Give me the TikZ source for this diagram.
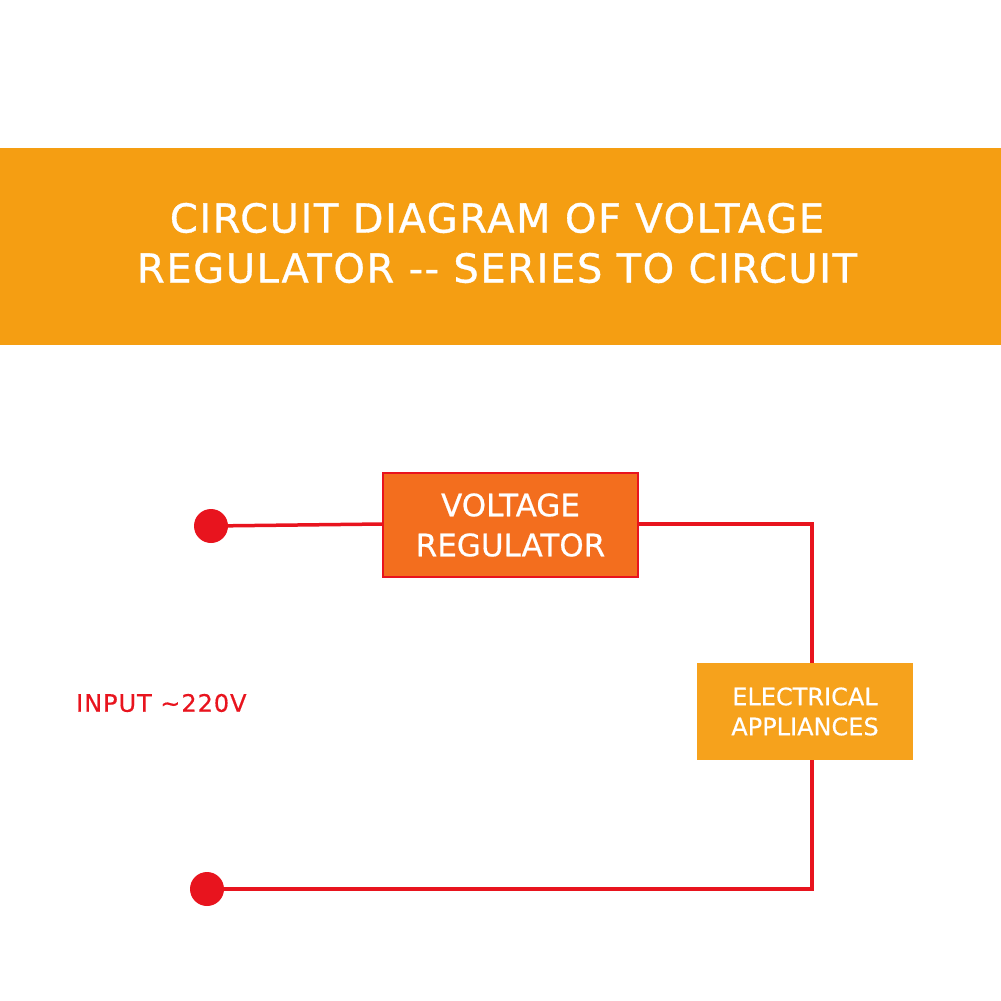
\documentclass[tikz,border=0pt]{standalone}
\usepackage{fontspec}
\setmainfont{DejaVu Sans}
\definecolor{ban}{RGB}{245,158,18}
\definecolor{reg}{RGB}{243,110,30}
\definecolor{app}{RGB}{246,162,28}
\definecolor{wire}{RGB}{232,20,30}
\begin{document}
\begin{tikzpicture}[x=1pt,y=-1pt,
  wire/.style={draw=wire,line width=3.5pt},
  dot/.style={circle,fill=wire,minimum size=34pt,inner sep=0pt},
  txt/.style={text=white,align=center,inner sep=0pt}]
\useasboundingbox (0,0) rectangle (1001,1001);
\fill[ban] (0,148) rectangle (1001,345);
\node[txt,font=\fontsize{40}{50}\selectfont\addfontfeature{LetterSpace=4,FakeBold=0.8}] (title) at (497,243) {CIRCUIT DIAGRAM OF VOLTAGE\\REGULATOR {-}{-} SERIES TO CIRCUIT};
\node[dot] (d1) at (211,526) {};
\node[dot] (d2) at (207,889) {};
\coordinate (c1) at (812,524);
\coordinate (c2) at (812,889);
\draw[wire] (d1.center) -- (383,524);
\draw[wire] (638,524) -- (c1) -- (812,663);
\draw[wire] (812,760) -- (c2) -- (d2.center);
\node[draw=wire,line width=1.5pt,fill=reg,minimum width=255pt,minimum height=104pt,txt,font=\fontsize{31}{40}\selectfont\addfontfeature{FakeBold=0.6}] (vr) at (510.5,525) {VOLTAGE\\REGULATOR};
\node[fill=app,minimum width=216pt,minimum height=97pt,txt,font=\fontsize{24}{30}\selectfont\addfontfeature{FakeBold=0.5}] (ea) at (805,711.5) {ELECTRICAL\\APPLIANCES};
\node[text=wire,font=\fontsize{24}{28}\selectfont\addfontfeature{LetterSpace=4,FakeBold=0.5},anchor=west,inner sep=0pt] (in) at (76,703) {INPUT \textasciitilde220V};
\end{tikzpicture}
\end{document}
